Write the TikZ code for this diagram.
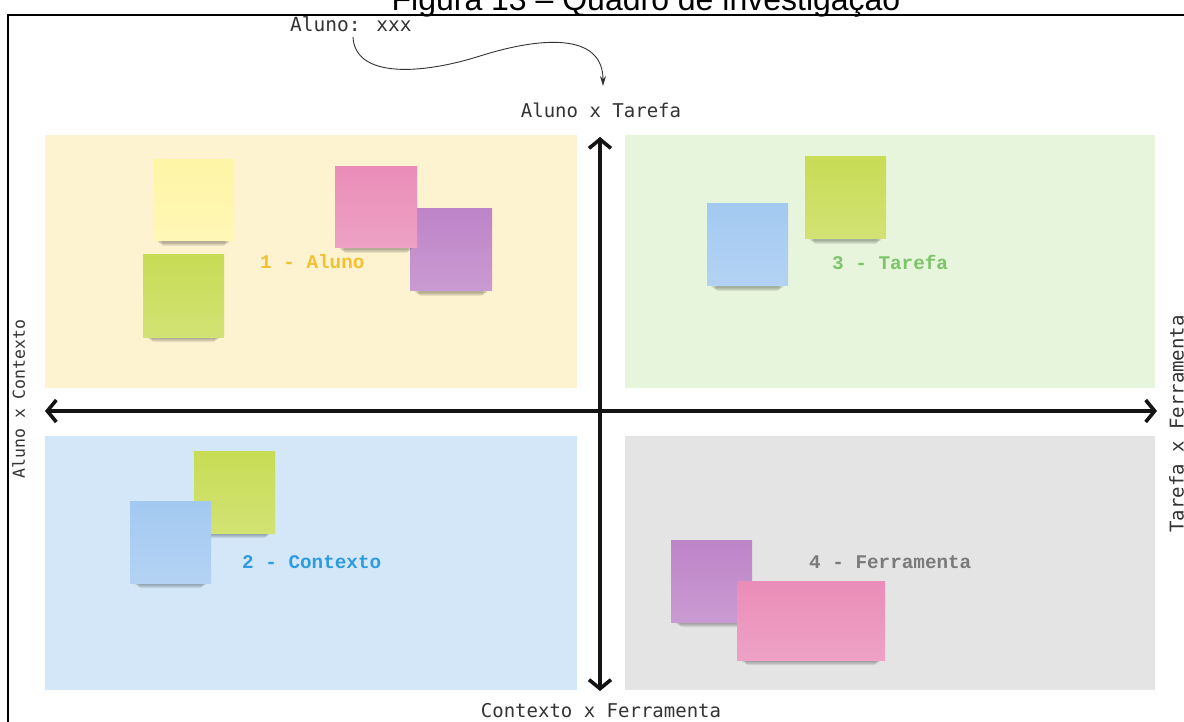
\documentclass[tikz,border=0pt]{standalone}
\usepackage{fontspec}
\setmainfont{Liberation Sans}
\newfontfamily\dvmono{DejaVu Sans Mono}
\newfontfamily\lbmono{Liberation Mono}
\usetikzlibrary{arrows.meta}
\definecolor{qyellow}{HTML}{FDF3D0}
\definecolor{qgreen}{HTML}{E7F5DC}
\definecolor{qblue}{HTML}{D3E7F8}
\definecolor{qgray}{HTML}{E4E4E4}
\definecolor{nyellow}{HTML}{FFF5A6}
\definecolor{ngreen}{HTML}{C8DC55}
\definecolor{npink}{HTML}{EA8DB8}
\definecolor{npurple}{HTML}{BE84C8}
\definecolor{nblue}{HTML}{A3C9F1}
\definecolor{lyellow}{HTML}{F2C12E}
\definecolor{lgreen}{HTML}{7CC46A}
\definecolor{lblue}{HTML}{2E9BE0}
\definecolor{lgray}{HTML}{7A7A7A}
\definecolor{axtext}{HTML}{333333}
\tikzset{
  quad/.style={draw=none, inner sep=0pt, outer sep=0pt},
  notebox/.style={draw=none, inner sep=0pt, outer sep=0pt},
  qlabel/.style={anchor=west, inner sep=0pt, font=\lbmono\bfseries\fontsize{19.3}{22}\selectfont},
  axlabel/.style={inner sep=0pt, text=axtext, font=\dvmono\fontsize{19}{22}\selectfont},
  axisline/.style={line width=3.6pt, black!92,
    {Straight Barb[length=9pt,width=22pt]}-{Straight Barb[length=9pt,width=22pt]}},
  curvearrow/.style={line width=0.9pt, black!80, -{Stealth[length=10pt,width=6pt]}},
}
\newcommand\stickynote[6]{%
  \foreach \k in {1,...,4}{%
    \fill[black, opacity=0.08, rounded corners=2pt] ({#2+3+1.5*\k},{#5-3}) rectangle ({#4-3-1.5*\k},{#5+1+1.0*\k});
  }
  \node[notebox, top color=#6, bottom color=#6!82!white,
        minimum width={#4-#2}, minimum height={#5-#3}] (#1) at ({(#2+#4)/2},{(#3+#5)/2}) {};
}
\begin{document}
\begin{tikzpicture}[x=1pt, y=-1pt]
\useasboundingbox (0,0) rectangle (1184,722);
\clip (0,0) rectangle (1184,722);
\fill[white] (0,0) rectangle (1184,722);

% caption (cut off at the top)
\node[anchor=base, inner sep=0pt, font=\fontsize{32}{36}\selectfont] (title) at (646,11) {Figura 13 – Quadro de investigação};
% frame
\draw[line width=1.6pt] (8,730) -- (8,15) -- (1190,15);

% quadrants
\node[quad, fill=qyellow, minimum width=532, minimum height=253] (q1) at (311,261.5) {};
\node[quad, fill=qgreen, minimum width=530, minimum height=253] (q2) at (890,261.5) {};
\node[quad, fill=qblue, minimum width=532, minimum height=254] (q3) at (311,563) {};
\node[quad, fill=qgray, minimum width=530, minimum height=254] (q4) at (890,563) {};

% sticky notes, quadrant 1
\stickynote{n1a}{153}{160}{234}{241}{nyellow}
\stickynote{n1b}{143}{255}{224}{337}{ngreen}
\stickynote{n1d}{410}{209}{492}{291}{npurple}
\stickynote{n1c}{335}{167}{417}{248}{npink}
% quadrant 3 (top right)
\stickynote{n3a}{805}{157}{886}{239}{ngreen}
\stickynote{n3b}{707}{204}{788}{286}{nblue}
% quadrant 2 (bottom left)
\stickynote{n2a}{194}{451}{275}{533}{ngreen}
\stickynote{n2b}{130}{501}{211}{583}{nblue}
% quadrant 4 (bottom right)
\stickynote{n4a}{671}{540}{752}{622}{npurple}
\stickynote{n4b}{737}{581}{885}{660}{npink}

% quadrant labels
\node[qlabel, text=lyellow] (l1) at (260,262) {1 - Aluno};
\node[qlabel, text=lgreen] (l3) at (832,262) {3 - Tarefa};
\node[qlabel, text=lblue] (l2) at (242,562) {2 - Contexto};
\node[qlabel, text=lgray] (l4) at (809,562) {4 - Ferramenta};

% axes
\coordinate (vt) at (600,137);
\coordinate (vb) at (600,691);
\coordinate (hl) at (45,411);
\coordinate (hr) at (1157,411);
\draw[axisline] (vb) -- (vt);
\draw[axisline] (hl) -- (hr);

% axis labels
\node[axlabel] (top) at (601,110) {Aluno x Tarefa};
\node[axlabel] (bottom) at (601,711) {Contexto x Ferramenta};
\node[axlabel, rotate=90, anchor=north, font=\dvmono\fontsize{16.5}{20}\selectfont] (left) at (12,399) {Aluno x Contexto};
\node[axlabel, rotate=90, anchor=north] (right) at (1169,424) {Tarefa x Ferramenta};

% student note and curved arrow
\node[axlabel, anchor=west, font=\dvmono\fontsize{19.5}{22}\selectfont] (aluno) at (290,24) {Aluno: xxx};
\coordinate (cstart) at (353,37);
\coordinate (ctip) at (603,86);
\draw[curvearrow] (cstart) .. controls (355,78) and (420,75) .. (480,56)
  .. controls (540,37) and (603,32) .. (ctip);
\end{tikzpicture}
\end{document}
